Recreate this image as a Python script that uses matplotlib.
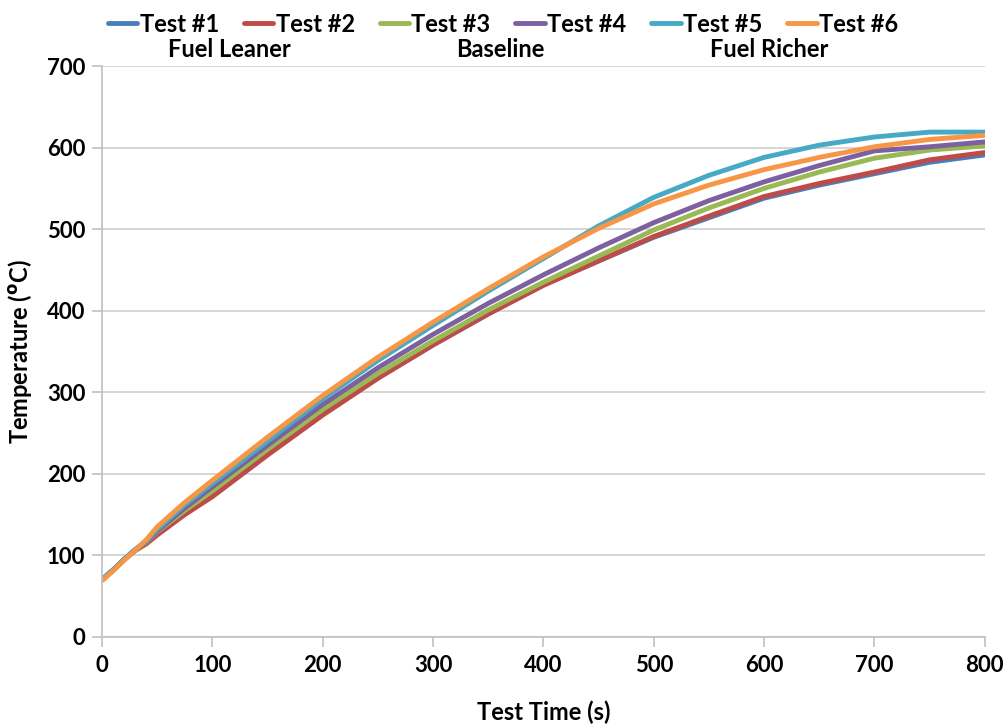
import matplotlib
matplotlib.use('Agg')
import matplotlib.pyplot as plt

# Test time (s) at which the temperatures were read
times = [0, 10, 20, 30, 40, 50, 75, 100, 150, 200, 250, 300, 350, 400,
         450, 500, 550, 600, 650, 700, 750, 800]

# Temperature (C) per test
test1 = [70, 82, 95, 106, 115, 127, 152, 175, 225, 273, 318, 358, 396, 432,
         461, 490, 514, 538, 554, 568, 582, 591]
test2 = [70, 82, 95, 106, 114, 125, 150, 172, 223, 272, 317, 358, 396, 431,
         461, 491, 516, 540, 556, 570, 585, 594]
test3 = [70, 82, 95, 107, 116, 129, 155, 179, 230, 279, 323, 363, 401, 435,
         467, 499, 526, 550, 570, 587, 597, 602]
test4 = [70, 82, 95, 107, 117, 130, 158, 184, 235, 285, 330, 371, 409, 444,
         477, 508, 535, 558, 578, 596, 601, 607]
test5 = [71, 82, 95, 107, 118, 132, 162, 188, 240, 292, 339, 382, 424, 464,
         504, 539, 566, 588, 603, 613, 619, 619]
test6 = [69, 81, 94, 106, 119, 135, 165, 192, 245, 296, 343, 386, 427, 466,
         501, 531, 554, 573, 588, 601, 610, 615]

labels = ['Test #1', 'Test #2', 'Test #3', 'Test #4', 'Test #5', 'Test #6']
colors = ['#4a7ebb', '#be4b48', '#98b954', '#7d60a0', '#46aac5', '#f79646']
groups = ['Fuel Leaner', 'Baseline', 'Fuel Richer']

plt.rcParams['font.family'] = ['Lato', 'DejaVu Sans']
plt.rcParams['font.weight'] = 'bold'

fig = plt.figure(figsize=(10.08, 7.24), dpi=100)
ax = fig.add_axes([0.1012, 0.1202, 0.8758, 0.7886])

for series, label, color in zip([test1, test2, test3, test4, test5, test6], labels, colors):
    ax.plot(times, series, color=color, linewidth=3.5, label=label,
            solid_capstyle='round', solid_joinstyle='round')

ax.set_xlim(0, 800)
ax.set_ylim(0, 700)
ax.set_xticks(range(0, 801, 100))
ax.set_yticks(range(0, 701, 100))
ax.grid(axis='y', color='#d0d0d0', linewidth=1.2)
ax.set_axisbelow(True)

for side in ['top', 'right']:
    ax.spines[side].set_visible(False)
for side in ['left', 'bottom']:
    ax.spines[side].set_color('#c0c0c0')
    ax.spines[side].set_linewidth(1.2)
ax.tick_params(axis='both', colors='#c0c0c0', labelcolor='black', labelsize=16,
               length=7, width=1.2)
ax.tick_params(axis='x', pad=6)
ax.tick_params(axis='y', pad=5)

ax.set_xlabel('Test Time (s)', fontsize=17, fontweight='bold', labelpad=18)
ax.set_ylabel('Temperature ($^{\\bf o}$C)', fontsize=17, fontweight='bold', labelpad=9)

fig.legend(loc='upper center', bbox_to_anchor=(0.499, 1.012), ncol=6, frameon=False,
           fontsize=17, handlelength=1.25, handletextpad=0.1, columnspacing=1.05)

for i, group in enumerate(groups):
    fig.text([0.228, 0.496, 0.763][i], 0.932, group, ha='center', va='center',
             fontsize=17, fontweight='bold')

fig.savefig('out.png', dpi=100)
